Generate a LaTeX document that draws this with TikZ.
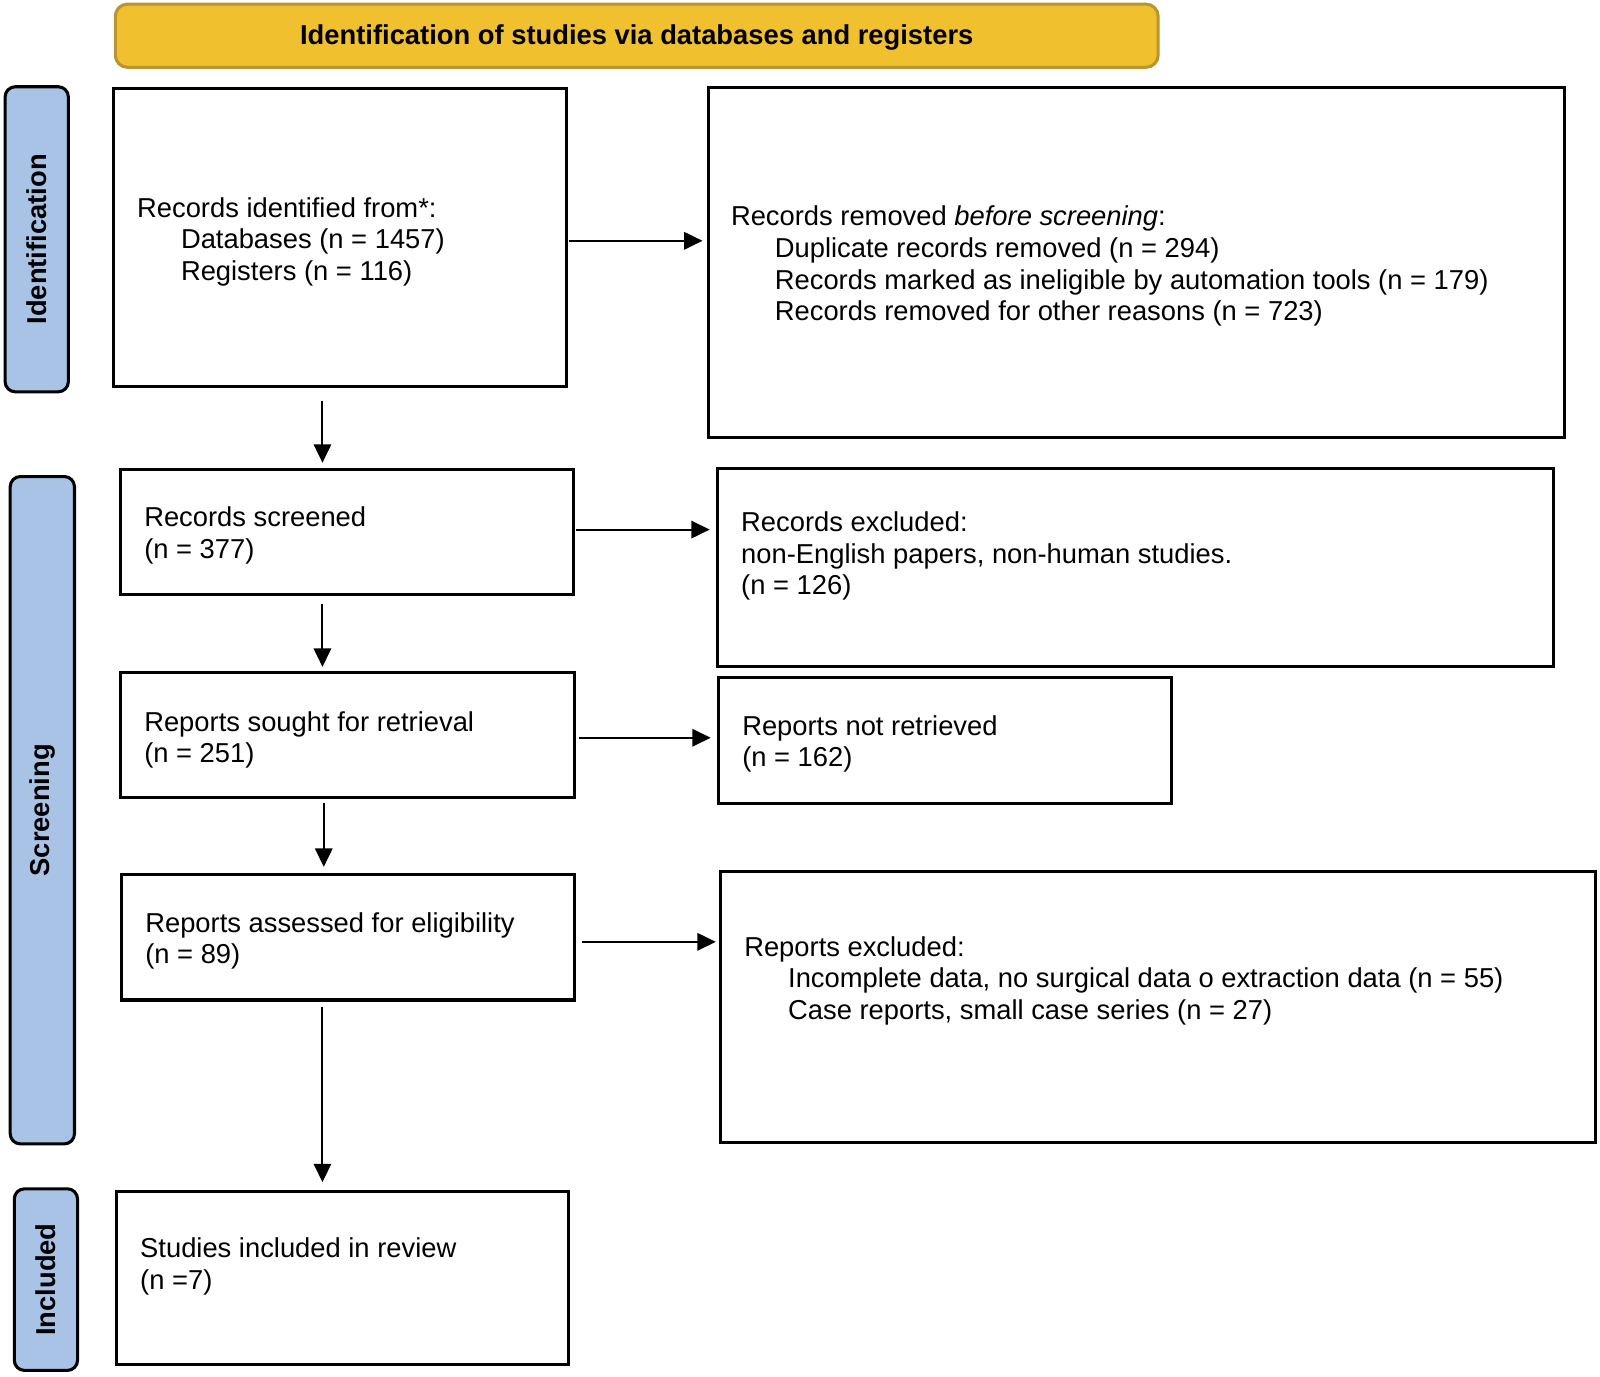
\documentclass[tikz,border=0pt]{standalone}
\usepackage{fontspec}
\setmainfont{Liberation Sans}
\usetikzlibrary{arrows.meta,fit}
\definecolor{hdrfill}{HTML}{F0C02E}
\definecolor{hdrdraw}{HTML}{B8952E}
\definecolor{lblfill}{HTML}{A9C3E7}
\begin{document}
\begin{tikzpicture}[x=0.5pt,y=-0.5pt,
  every node/.style={font=\fontsize{13.4}{15.5}\selectfont},
  box/.style={draw=black,line width=1.5pt,fill=white,inner sep=0pt},
  txt/.style={anchor=west,align=left,inner sep=0pt},
  lbl/.style={draw=black,line width=1.5pt,fill=lblfill,rounded corners=5pt,inner sep=0pt},
  lbltxt/.style={rotate=90,font=\fontsize{13.4}{15.5}\selectfont\bfseries,inner sep=0pt},
  arr/.style={line width=1pt,-{Triangle[length=9pt,width=8.5pt]}}]
\useasboundingbox (0,0) rectangle (1568,1348.5);
% header
\node[draw=hdrdraw,line width=1.5pt,fill=hdrfill,rounded corners=6pt,inner sep=0pt,fit={(113,4) (1135,66)}] (H) {};
\node[font=\fontsize{13.4}{15.5}\selectfont\bfseries,inner sep=0pt] (Ht) at ([yshift=-1pt]H.center) {Identification of studies via databases and registers};
% phase labels
\node[lbl,fit={(5,85) (67,384)}] (L1) {};
\node[lbltxt] (L1t) at (L1.center) {Identification};
\node[lbl,fit={(10,467) (73,1121)}] (L2) {};
\node[lbltxt] (L2t) at (L2.center) {Screening};
\node[lbl,fit={(14,1165) (76,1343)}] (L3) {};
\node[lbltxt] (L3t) at (L3.center) {Included};
% boxes
\node[box,fit={(111,87) (555,379)}] (B1) {};
\node[box,fit={(694,86) (1533,429)}] (B2) {};
\node[box,fit={(118,460) (562,583)}] (B3) {};
\node[box,fit={(703,459) (1522,653)}] (B4) {};
\node[box,fit={(118,659) (563,782)}] (B5) {};
\node[box,fit={(704,664) (1148,787)}] (B6) {};
\node[box,fit={(119,857) (563,980)}] (B7) {};
\node[box,fit={(706,854) (1564,1120)}] (B8) {};
\node[box,fit={(114,1168) (557,1337)}] (B9) {};
% texts
\node[txt] (T1) at (134,237) {Records identified from*:\\\hspace*{21.5pt}Databases (n = 1457)\\\hspace*{21.5pt}Registers (n = 116)};
\node[txt] (T2) at (716,261) {Records removed \textit{before screening}:\\\hspace*{21.5pt}Duplicate records removed (n = 294)\\\hspace*{21.5pt}Records marked as ineligible by automation tools (n = 179)\\\hspace*{21.5pt}Records removed for other reasons (n = 723)};
\node[txt] (T3) at (141,525) {Records screened\\(n = 377)};
\node[txt] (T4) at (726,545) {Records excluded:\\non-English papers, non-human studies.\\(n = 126)};
\node[txt] (T5) at (141,725) {Reports sought for retrieval\\(n = 251)};
\node[txt] (T6) at (727,729) {Reports not retrieved\\(n = 162)};
\node[txt] (T7) at (142,922) {Reports assessed for eligibility\\(n = 89)};
\node[txt] (T8) at (729,961) {Reports excluded:\\\hspace*{21.5pt}Incomplete data, no surgical data o extraction data (n = 55)\\\hspace*{21.5pt}Case reports, small case series (n = 27)};
\node[txt] (T9) at (137,1241) {Studies included in review\\(n =7)};
% connector helpers
\coordinate (y1) at (0,236);
\coordinate (y2) at (0,519);
\coordinate (y3) at (0,723);
\coordinate (y4) at (0,923);
\coordinate (xa) at (316,0);
\coordinate (xb) at (317.3,0);
% horizontal arrows
\draw[arr,shorten <=0.5pt,shorten >=2pt] (B1.east |- y1) -- (B2.west |- y1);
\draw[arr,shorten <=0.5pt,shorten >=3pt] (B3.east |- y2) -- (B4.west |- y2);
\draw[arr,shorten <=1.5pt,shorten >=3pt] (B5.east |- y3) -- (B6.west |- y3);
\draw[arr,shorten <=3pt,shorten >=1.5pt] (B7.east |- y4) -- (B8.west |- y4);
% vertical arrows
\draw[arr,shorten <=6pt,shorten >=2.5pt] (B1.south -| xa) -- (B3.north -| xa);
\draw[arr,shorten <=3.5pt,shorten >=2pt] (B3.south -| xa) -- (B5.north -| xa);
\draw[arr,shorten <=1.5pt,shorten >=3pt] (B5.south -| xb) -- (B7.north -| xb);
\draw[arr,shorten <=2.5pt,shorten >=4pt] (B7.south -| xa) -- (B9.north -| xa);
\end{tikzpicture}
\end{document}
